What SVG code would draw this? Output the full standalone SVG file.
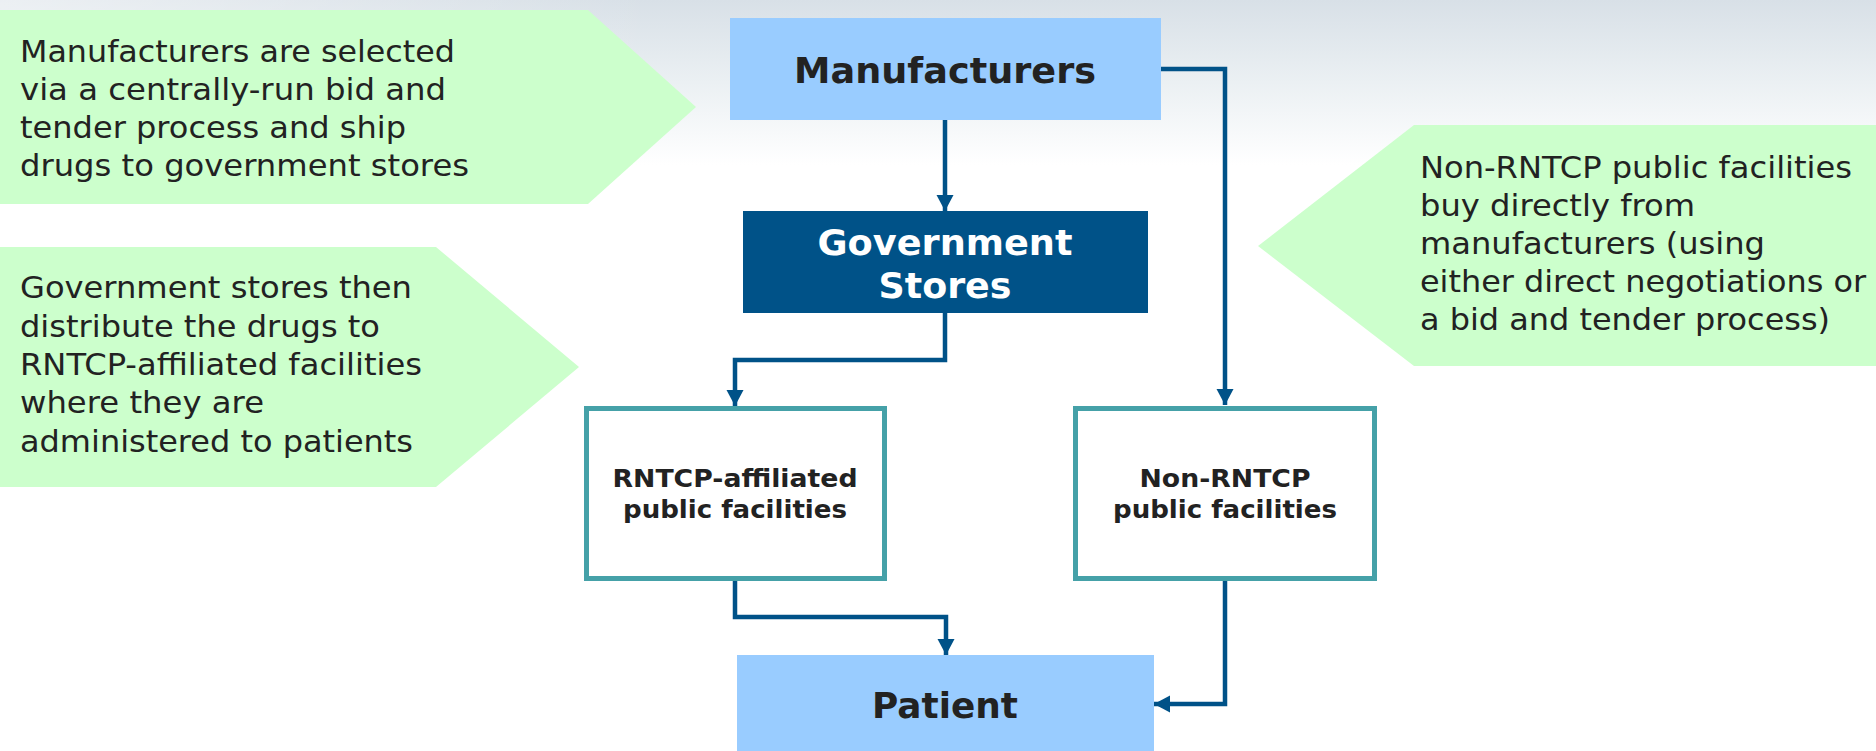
<svg xmlns="http://www.w3.org/2000/svg" width="1876" height="751" viewBox="0 0 1876 751">
<style>
.call{fill:#CCFFCC}
.ct{font-family:"DejaVu Sans","Liberation Sans",Arial,sans-serif;font-size:31px;fill:#222222}
.bl{font-family:"DejaVu Sans","Liberation Sans",Arial,sans-serif;font-weight:bold;fill:#222222;text-anchor:middle}
.big{font-size:35px}
.small{font-size:24px}
.wh{fill:#FFFFFF}
.fac{fill:#FFFFFF;stroke:#45A1A8;stroke-width:5}
.lt{fill:#99CCFF}
.conn{fill:none;stroke:#005288;stroke-width:4.5}
</style>
<defs>
<linearGradient id="sky" x1="0" y1="0" x2="0" y2="1">
<stop offset="0" stop-color="#D8E0E7"/>
<stop offset="0.5" stop-color="#EBF0F3"/>
<stop offset="1" stop-color="#FFFFFF"/>
</linearGradient>
<linearGradient id="fadeL" x1="0" y1="0" x2="1" y2="0">
<stop offset="0" stop-color="#FFFFFF" stop-opacity="0.5"/>
<stop offset="0.35" stop-color="#FFFFFF" stop-opacity="0"/>
</linearGradient>
<marker id="ah" markerUnits="userSpaceOnUse" markerWidth="16" markerHeight="18" refX="16" refY="8.5" orient="auto">
<path d="M0,0 L16,8.5 L0,17 Z" fill="#005288"/>
</marker>
</defs>
<rect x="0" y="0" width="1876" height="751" fill="#FFFFFF"/>
<rect x="0" y="0" width="1876" height="165" fill="url(#sky)"/>
<rect x="0" y="0" width="1876" height="165" fill="url(#fadeL)"/>

<g id="callout-manufacturers">
<polygon class="call" points="0,10 588,10 696,107 588,204 0,204"/>
<text class="ct" x="20" y="62" textLength="435" lengthAdjust="spacingAndGlyphs">Manufacturers are selected</text>
<text class="ct" x="20" y="100" textLength="426" lengthAdjust="spacingAndGlyphs">via a centrally-run bid and</text>
<text class="ct" x="20" y="138" textLength="386" lengthAdjust="spacingAndGlyphs">tender process and ship</text>
<text class="ct" x="20" y="176" textLength="449" lengthAdjust="spacingAndGlyphs">drugs to government stores</text>
</g>

<g id="callout-stores">
<polygon class="call" points="0,247 436,247 579,367 436,487 0,487"/>
<text class="ct" x="20" y="298" textLength="392" lengthAdjust="spacingAndGlyphs">Government stores then</text>
<text class="ct" x="20" y="337" textLength="360" lengthAdjust="spacingAndGlyphs">distribute the drugs to</text>
<text class="ct" x="20" y="375" textLength="402" lengthAdjust="spacingAndGlyphs">RNTCP-affiliated facilities</text>
<text class="ct" x="20" y="413" textLength="244" lengthAdjust="spacingAndGlyphs">where they are</text>
<text class="ct" x="20" y="452" textLength="393" lengthAdjust="spacingAndGlyphs">administered to patients</text>
</g>

<g id="callout-nonrntcp">
<polygon class="call" points="1258,246 1414,125 1876,125 1876,366 1414,366"/>
<text class="ct" x="1420" y="178" textLength="432" lengthAdjust="spacingAndGlyphs">Non-RNTCP public facilities</text>
<text class="ct" x="1420" y="216" textLength="275" lengthAdjust="spacingAndGlyphs">buy directly from</text>
<text class="ct" x="1420" y="254" textLength="345" lengthAdjust="spacingAndGlyphs">manufacturers (using</text>
<text class="ct" x="1420" y="292" textLength="446" lengthAdjust="spacingAndGlyphs">either direct negotiations or</text>
<text class="ct" x="1420" y="330" textLength="410" lengthAdjust="spacingAndGlyphs">a bid and tender process)</text>
</g>

<g id="connectors">
<path class="conn" d="M945,120 L945,211" marker-end="url(#ah)"/>
<path class="conn" d="M1161,69 L1225,69 L1225,405" marker-end="url(#ah)"/>
<path class="conn" d="M945,313 L945,360 L735,360 L735,406" marker-end="url(#ah)"/>
<path class="conn" d="M735,581 L735,617 L946,617 L946,655" marker-end="url(#ah)"/>
<path class="conn" d="M1225,581 L1225,704 L1154,704" marker-end="url(#ah)"/>
</g>

<g id="manufacturers">
<rect class="lt" x="730" y="18" width="431" height="102"/>
<text class="bl big" x="945" y="83" textLength="302" lengthAdjust="spacingAndGlyphs">Manufacturers</text>
</g>

<g id="government-stores">
<rect x="743" y="211" width="405" height="102" fill="#005288"/>
<text class="bl big wh" x="945" y="255" textLength="255" lengthAdjust="spacingAndGlyphs">Government</text>
<text class="bl big wh" x="945" y="298" textLength="133" lengthAdjust="spacingAndGlyphs">Stores</text>
</g>

<g id="rntcp-affiliated">
<rect class="fac" x="586.5" y="408.5" width="298" height="170"/>
<text class="bl small" x="735" y="487" textLength="245" lengthAdjust="spacingAndGlyphs">RNTCP-affiliated</text>
<text class="bl small" x="735" y="518" textLength="224" lengthAdjust="spacingAndGlyphs">public facilities</text>
</g>

<g id="non-rntcp">
<rect class="fac" x="1075.5" y="408.5" width="299" height="170"/>
<text class="bl small" x="1225" y="487" textLength="171" lengthAdjust="spacingAndGlyphs">Non-RNTCP</text>
<text class="bl small" x="1225" y="518" textLength="224" lengthAdjust="spacingAndGlyphs">public facilities</text>
</g>

<g id="patient">
<rect class="lt" x="737" y="655" width="417" height="96"/>
<text class="bl big" x="945" y="718" textLength="146" lengthAdjust="spacingAndGlyphs">Patient</text>
</g>
</svg>
